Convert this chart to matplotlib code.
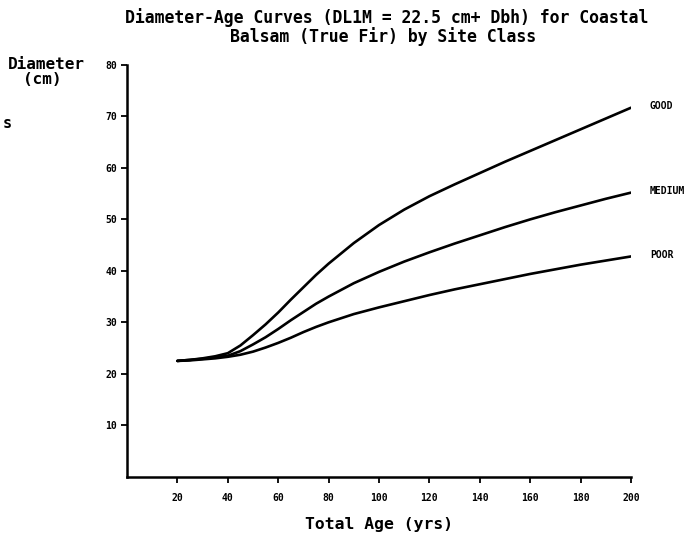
import matplotlib.pyplot as plt

# values
ages = [20, 25, 30, 35, 40, 45, 50, 55, 60, 65, 70, 75, 80, 90, 100, 110, 120, 130, 140, 150, 160, 170, 180, 190, 200]
good = [22.5, 22.7, 23.0, 23.4, 24.0, 25.5, 27.5, 29.6, 31.9, 34.4, 36.8, 39.2, 41.4, 45.4, 48.9, 51.9, 54.5,
        56.8, 59.0, 61.2, 63.3, 65.4, 67.5, 69.6, 71.7]
medium = [22.5, 22.7, 22.9, 23.2, 23.5, 24.4, 25.7, 27.1, 28.7, 30.4, 32.0, 33.6, 35.0, 37.6, 39.8, 41.8, 43.6,
          45.3, 46.9, 48.5, 50.0, 51.4, 52.7, 54.0, 55.2]
poor = [22.5, 22.6, 22.8, 23.0, 23.3, 23.7, 24.3, 25.1, 26.0, 27.0, 28.1, 29.1, 30.0, 31.6, 32.9, 34.1, 35.3,
        36.4, 37.4, 38.4, 39.4, 40.3, 41.2, 42.0, 42.8]
site_names = ['GOOD', 'MEDIUM', 'POOR']

xticks = [20, 40, 60, 80, 100, 120, 140, 160, 180, 200]
yticks = [10, 20, 30, 40, 50, 60, 70, 80]

mono = 'DejaVu Sans Mono'
W, H = 688, 533

fig = plt.figure(figsize=(6.88, 5.33), dpi=100)
ax = fig.add_axes([127 / W, 1 - 476.7 / H, 504 / W, (476.7 - 65) / H])

for vals, name in zip([good, medium, poor], site_names):
    ax.plot(ages, vals, color='black', lw=1.9, solid_capstyle='round', solid_joinstyle='round')
    ax.text(207.5, vals[-1] + 0.3, name, fontsize=7, fontweight='bold', family=mono,
            ha='left', va='center', clip_on=False)

ax.set_xlim(0, 200)
ax.set_ylim(0, 80)
ax.set_xticks(xticks)
ax.set_yticks(yticks)
ax.set_xticklabels([str(t) for t in xticks], fontsize=7, fontweight='bold', family=mono)
ax.set_yticklabels([str(t) for t in yticks], fontsize=7, fontweight='bold', family=mono)
ax.tick_params(direction='out', length=4, width=1.3, pad=8, axis='x')
ax.tick_params(direction='out', length=4, width=1.3, pad=3, axis='y')
for s in ['top', 'right']:
    ax.spines[s].set_visible(False)
for s in ['left', 'bottom']:
    ax.spines[s].set_linewidth(1.8)

ax.set_xlabel('Total Age (yrs)', fontsize=11.8, fontweight='bold', family=mono, labelpad=10)

fig.text(387 / W, 1 - 18 / H, 'Diameter-Age Curves (DL1M = 22.5 cm+ Dbh) for Coastal',
         fontsize=11.9, fontweight='bold', family=mono, ha='center', va='center')
fig.text(383 / W, 1 - 37 / H, 'Balsam (True Fir) by Site Class',
         fontsize=11.9, fontweight='bold', family=mono, ha='center', va='center')
fig.text(8 / W, 1 - 64 / H, 'Diameter', fontsize=11.5, fontweight='bold', family=mono,
         ha='left', va='center')
fig.text(23 / W, 1 - 80 / H, '(cm)', fontsize=11.5, fontweight='bold', family=mono,
         ha='left', va='center')
fig.text(3 / W, 1 - 123 / H, 's', fontsize=11, fontweight='bold', family=mono,
         ha='left', va='center')

fig.savefig('out.png', dpi=100)
